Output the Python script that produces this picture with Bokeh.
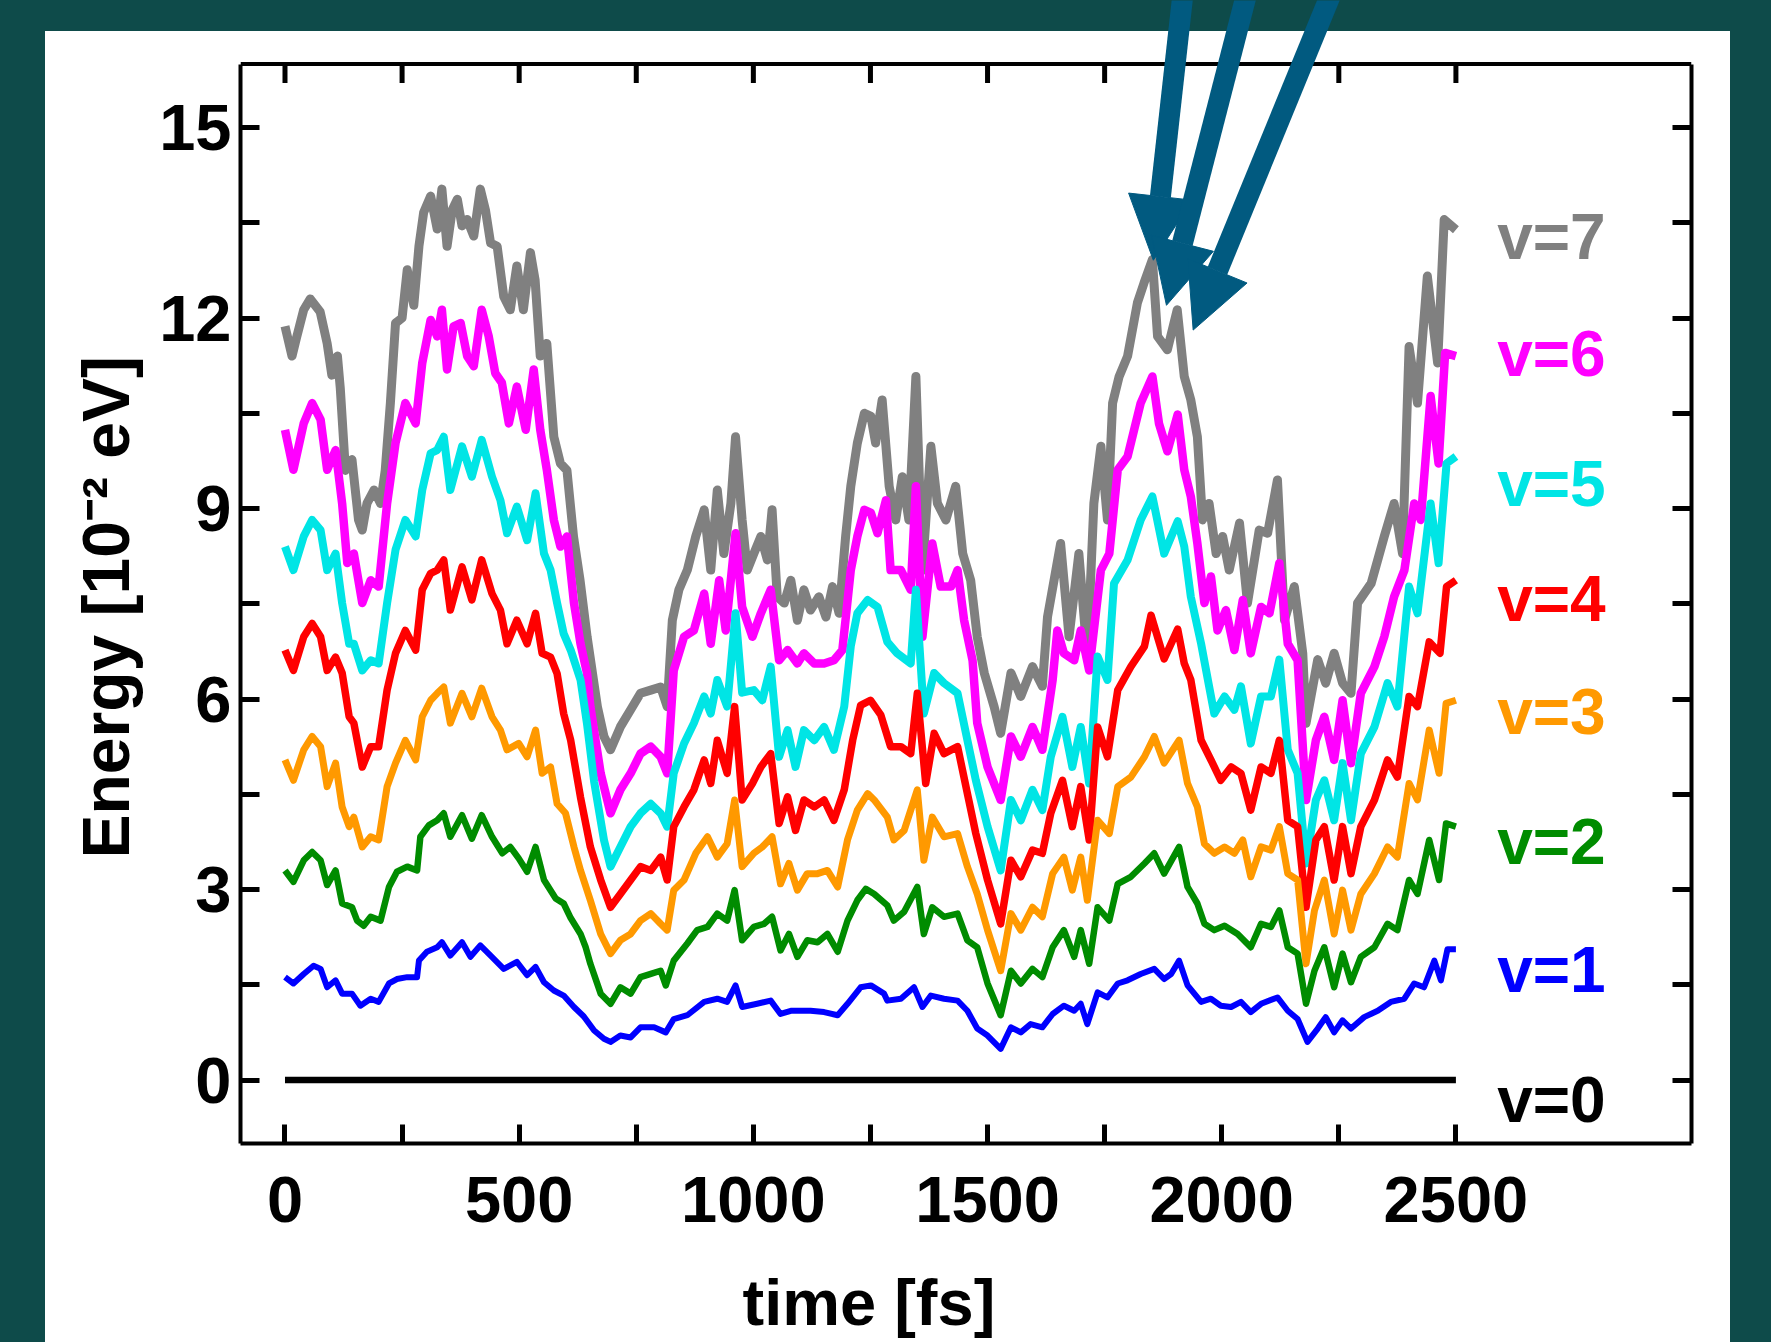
from bokeh.plotting import figure
from bokeh.models import (Range1d, LinearAxis, FixedTicker, Arrow, NormalHead, Span,
                          Title, ColumnDataSource)
from bokeh.embed import file_html
from bokeh.resources import INLINE
from bokeh.core.properties import value

# ---------------- data (time in fs, energy in 1e-2 eV) ----------------
v0 = [(0, 0.0), (2500, 0.0)]

v1 = [(0,1.62),(18,1.52),(40,1.67),(61,1.80),(76,1.75),(90,1.46),(108,1.57),(122,1.36),(143,1.36),
      (161,1.17),(183,1.28),(200,1.23),(222,1.52),(239,1.59),(261,1.62),(282,1.62),(286,1.88),(303,2.02),
      (325,2.09),(335,2.17),(353,1.96),(378,2.17),(396,1.94),(417,2.12),(439,1.96),(467,1.75),(495,1.86),
      (517,1.65),(535,1.78),(553,1.54),(574,1.41),(595,1.33),(617,1.15),(638,1.00),(660,0.78),(681,0.65),
      (695,0.60),(716,0.70),(738,0.67),(759,0.83),(788,0.83),(813,0.75),(830,0.96),(859,1.02),(895,1.23),
      (923,1.28),(944,1.23),(962,1.49),(976,1.15),(1008,1.20),(1037,1.25),(1058,1.04),(1080,1.09),
      (1101,1.09),(1122,1.09),(1151,1.07),(1180,1.02),(1201,1.20),(1229,1.46),(1251,1.49),(1279,1.36),
      (1286,1.25),(1315,1.28),(1343,1.46),(1361,1.15),(1379,1.33),(1407,1.28),(1436,1.25),(1457,1.09),
      (1478,0.81),(1500,0.70),(1528,0.49),(1550,0.83),(1571,0.75),(1592,0.88),(1617,0.83),(1639,1.04),
      (1663,1.17),(1685,1.09),(1699,1.20),(1713,0.88),(1735,1.38),(1756,1.30),(1778,1.52),(1799,1.57),
      (1827,1.67),(1856,1.75),(1877,1.59),(1892,1.67),(1909,1.88),(1927,1.49),(1956,1.23),(1977,1.28),
      (1998,1.17),(2020,1.15),(2041,1.23),(2062,1.07),(2084,1.20),(2119,1.30),(2141,1.09),(2162,0.96),
      (2183,0.60),(2205,0.81),(2222,0.99),(2240,0.75),(2258,0.94),(2276,0.81),(2304,0.99),(2333,1.09),
      (2361,1.23),(2390,1.28),(2411,1.52),(2432,1.46),(2454,1.88),(2468,1.57),(2482,2.06),(2500,2.06)]

v2 = [(0,3.30),(18,3.12),(40,3.46),(58,3.59),(76,3.46),(90,3.07),(108,3.30),(122,2.78),(143,2.72),
      (154,2.51),(168,2.43),(183,2.57),(204,2.51),(222,3.04),(239,3.28),(261,3.36),(282,3.30),(289,3.83),
      (307,4.01),(325,4.09),(339,4.20),(353,3.83),(378,4.17),(399,3.80),(420,4.17),(442,3.83),(464,3.57),
      (481,3.67),(499,3.49),(517,3.28),(535,3.67),(553,3.15),(578,2.86),(595,2.78),(610,2.55),(631,2.30),
      (642,2.09),(652,1.83),(674,1.36),(695,1.20),(716,1.46),(738,1.36),(759,1.62),(781,1.67),(802,1.72),
      (813,1.49),(830,1.88),(859,2.15),(880,2.36),(902,2.41),(923,2.62),(944,2.51),(960,2.99),(976,2.20),
      (1001,2.41),(1023,2.46),(1040,2.57),(1058,2.04),(1076,2.30),(1094,1.94),(1115,2.20),(1137,2.17),
      (1158,2.30),(1180,2.02),(1201,2.51),(1222,2.83),(1240,3.01),(1258,2.93),(1286,2.75),(1300,2.51),
      (1322,2.65),(1350,3.04),(1364,2.30),(1382,2.72),(1407,2.57),(1436,2.62),(1457,2.20),(1478,2.09),
      (1500,1.52),(1528,1.02),(1550,1.72),(1571,1.52),(1596,1.75),(1617,1.62),(1639,2.09),(1663,2.36),
      (1685,1.94),(1699,2.36),(1717,1.83),(1735,2.72),(1760,2.51),(1778,3.09),(1806,3.20),(1835,3.41),
      (1856,3.57),(1877,3.25),(1909,3.67),(1927,3.04),(1948,2.78),(1963,2.46),(1984,2.36),(2006,2.43),
      (2034,2.30),(2062,2.09),(2084,2.46),(2105,2.41),(2123,2.67),(2141,2.09),(2162,1.99),(2180,1.20),
      (2198,1.72),(2219,2.09),(2240,1.46),(2258,1.99),(2276,1.54),(2297,1.94),(2326,2.09),(2354,2.46),
      (2375,2.36),(2400,3.15),(2418,2.93),(2443,3.78),(2464,3.15),(2479,4.04),(2500,3.99)]

v3 = [(0,5.04),(18,4.72),(40,5.20),(58,5.41),(76,5.25),(90,4.62),(108,4.99),(122,4.30),(137,3.99),
      (147,4.14),(165,3.67),(183,3.83),(200,3.78),(218,4.62),(236,4.99),(257,5.35),(279,5.04),(293,5.72),
      (311,5.98),(325,6.09),(339,6.19),(353,5.62),(378,6.09),(399,5.72),(420,6.17),(442,5.72),(460,5.51),
      (474,5.20),(499,5.30),(517,5.09),(535,5.51),(549,4.83),(567,4.93),(581,4.35),(599,4.20),(617,3.67),
      (631,3.30),(652,2.83),(674,2.30),(695,1.99),(716,2.20),(738,2.30),(759,2.51),(781,2.62),(802,2.46),
      (816,2.36),(830,2.99),(852,3.15),(877,3.57),(902,3.83),(923,3.51),(944,3.72),(960,4.41),(976,3.36),
      (1001,3.57),(1019,3.67),(1040,3.83),(1058,3.09),(1076,3.41),(1094,2.99),(1115,3.25),(1137,3.25),
      (1158,3.30),(1180,3.04),(1201,3.78),(1222,4.25),(1244,4.51),(1258,4.41),(1286,4.14),(1300,3.78),
      (1322,3.93),(1350,4.57),(1364,3.46),(1382,4.14),(1407,3.83),(1436,3.88),(1457,3.36),(1478,2.93),
      (1500,2.36),(1528,1.72),(1550,2.62),(1571,2.36),(1596,2.72),(1617,2.57),(1639,3.25),(1663,3.51),
      (1681,2.99),(1699,3.51),(1713,2.83),(1735,4.09),(1760,3.88),(1778,4.62),(1806,4.77),(1835,5.09),
      (1856,5.41),(1877,4.99),(1909,5.35),(1927,4.67),(1948,4.30),(1963,3.72),(1984,3.57),(2006,3.67),
      (2027,3.57),(2045,3.78),(2062,3.20),(2084,3.67),(2105,3.62),(2123,3.99),(2141,3.25),(2162,3.15),
      (2180,1.83),(2198,2.67),(2219,3.15),(2240,2.30),(2258,2.99),(2276,2.36),(2297,2.93),(2326,3.25),
      (2354,3.67),(2375,3.51),(2400,4.67),(2418,4.41),(2443,5.51),(2464,4.83),(2479,5.93),(2500,5.98)]

v4 = [(0,6.77),(18,6.45),(40,6.98),(58,7.19),(76,6.98),(90,6.45),(108,6.66),(122,6.41),(137,5.72),
      (147,5.62),(165,4.93),(183,5.25),(200,5.25),(218,6.14),(236,6.72),(257,7.08),(279,6.77),(293,7.72),
      (311,7.98),(325,8.03),(339,8.19),(353,7.40),(378,8.08),(399,7.56),(420,8.19),(442,7.66),(460,7.40),
      (474,6.87),(495,7.24),(517,6.87),(535,7.35),(549,6.72),(567,6.66),(581,6.40),(595,5.77),(610,5.35),
      (631,4.45),(652,3.67),(674,3.15),(695,2.72),(716,2.93),(738,3.15),(759,3.36),(781,3.30),(802,3.51),
      (816,3.15),(830,3.99),(852,4.30),(873,4.57),(895,5.04),(909,4.67),(923,5.35),(944,4.83),(960,5.88),
      (976,4.41),(998,4.67),(1016,4.93),(1037,5.14),(1055,4.04),(1073,4.46),(1090,3.93),(1108,4.41),
      (1130,4.30),(1151,4.41),(1172,4.09),(1194,4.57),(1212,5.35),(1229,5.90),(1250,5.98),(1272,5.75),
      (1293,5.25),(1315,5.25),(1336,5.14),(1350,6.09),(1368,4.67),(1386,5.46),(1407,5.14),(1436,5.25),
      (1457,4.51),(1475,3.88),(1500,3.15),(1528,2.46),(1550,3.46),(1571,3.20),(1596,3.62),(1617,3.57),
      (1635,4.20),(1660,4.72),(1681,3.99),(1699,4.62),(1717,3.78),(1735,5.56),(1756,5.09),(1778,6.14),
      (1806,6.51),(1835,6.83),(1849,7.32),(1877,6.63),(1906,7.10),(1920,6.56),(1934,6.30),(1956,5.35),
      (1977,5.04),(1998,4.72),(2020,4.93),(2041,4.83),(2062,4.25),(2084,4.93),(2105,4.83),(2123,5.35),
      (2141,4.09),(2162,3.99),(2180,2.72),(2201,3.78),(2219,3.99),(2240,3.15),(2258,3.99),(2276,3.25),
      (2297,3.99),(2326,4.41),(2354,5.04),(2375,4.77),(2400,6.04),(2418,5.88),(2443,6.90),(2466,6.72),
      (2480,7.77),(2500,7.87)]

v5 = [(0,8.40),(18,8.03),(40,8.56),(58,8.82),(76,8.66),(90,8.03),(108,8.29),(122,7.51),(137,6.87),
      (147,6.87),(165,6.45),(183,6.61),(200,6.56),(218,7.51),(236,8.35),(257,8.82),(279,8.56),(293,9.29),
      (311,9.87),(325,9.92),(339,10.13),(353,9.29),(378,9.98),(399,9.50),(420,10.08),(442,9.50),(460,9.13),
      (474,8.61),(495,9.03),(517,8.50),(535,9.24),(553,8.29),(567,8.03),(581,7.51),(595,7.03),(610,6.77),
      (631,6.30),(645,5.60),(660,4.70),(681,3.78),(695,3.36),(716,3.67),(738,3.99),(759,4.20),(781,4.35),
      (802,4.20),(816,3.99),(830,4.83),(852,5.30),(873,5.62),(895,6.04),(909,5.77),(923,6.30),(944,5.88),
      (962,7.35),(976,6.10),(1001,6.14),(1019,5.98),(1037,6.51),(1055,5.09),(1073,5.51),(1090,4.93),
      (1108,5.51),(1130,5.35),(1151,5.56),(1172,5.20),(1194,5.88),(1208,6.83),(1222,7.35),(1244,7.56),
      (1265,7.45),(1286,6.90),(1307,6.72),(1336,6.56),(1347,7.72),(1364,5.77),(1386,6.41),(1407,6.25),
      (1436,6.09),(1457,5.35),(1475,4.72),(1500,3.99),(1528,3.30),(1550,4.41),(1571,4.09),(1596,4.57),
      (1617,4.25),(1635,5.09),(1660,5.72),(1681,4.93),(1699,5.56),(1717,4.67),(1735,6.67),(1756,6.30),
      (1770,7.82),(1799,8.19),(1827,8.82),(1852,9.19),(1877,8.29),(1906,8.80),(1920,8.40),(1934,7.61),
      (1956,6.87),(1973,6.20),(1984,5.77),(2006,6.04),(2027,5.83),(2041,6.20),(2062,5.30),(2084,6.04),
      (2105,6.04),(2123,6.62),(2141,5.20),(2162,4.83),(2180,3.41),(2201,4.41),(2219,4.72),(2240,4.09),
      (2258,4.99),(2276,4.09),(2297,5.14),(2326,5.56),(2354,6.25),(2375,5.88),(2400,7.77),(2418,7.35),
      (2446,9.08),(2463,8.14),(2480,9.71),(2500,9.82)]

v6 = [(0,10.24),(18,9.61),(40,10.34),(58,10.66),(76,10.40),(90,9.61),(108,9.92),(122,9.08),(133,8.14),
      (147,8.29),(165,7.51),(183,7.87),(200,7.77),(218,9.08),(236,10.03),(257,10.66),(279,10.34),
      (293,11.29),(311,11.97),(325,11.71),(335,12.13),(346,11.19),(360,11.87),(375,11.92),(389,11.40),
      (403,11.24),(420,12.13),(435,11.71),(449,11.13),(463,10.98),(478,10.34),(495,10.92),(514,10.24),
      (531,11.19),(545,10.24),(559,9.61),(574,8.82),(588,8.40),(602,8.56),(617,7.51),(631,6.87),(645,6.40),
      (652,5.88),(674,4.83),(695,4.20),(716,4.57),(738,4.83),(759,5.14),(781,5.25),(802,5.09),(816,4.83),
      (830,6.45),(852,6.98),(873,7.08),(895,7.66),(909,6.87),(927,7.87),(941,7.08),(962,8.61),(976,7.45),
      (998,6.98),(1016,7.35),(1037,7.72),(1055,6.61),(1073,6.77),(1094,6.56),(1108,6.72),(1130,6.56),
      (1151,6.56),(1172,6.61),(1190,6.77),(1208,8.03),(1222,8.56),(1237,8.98),(1251,8.93),(1265,8.61),
      (1283,9.13),(1293,8.03),(1315,8.03),(1336,7.72),(1347,9.35),(1361,6.98),(1382,8.45),(1400,7.77),
      (1422,7.77),(1436,8.03),(1450,7.24),(1468,6.61),(1478,5.62),(1500,4.93),(1528,4.41),(1550,5.41),
      (1571,5.09),(1596,5.56),(1617,5.20),(1639,6.30),(1649,7.08),(1663,6.72),(1685,6.61),(1699,7.08),
      (1717,6.45),(1742,8.03),(1760,8.29),(1778,9.61),(1799,9.82),(1827,10.66),(1852,11.08),(1866,10.34),
      (1884,9.90),(1906,10.48),(1920,9.61),(1934,9.19),(1948,8.45),(1963,7.51),(1977,7.93),(1991,7.08),
      (2009,7.40),(2027,6.77),(2045,7.56),(2062,6.72),(2084,7.45),(2102,7.35),(2123,8.14),(2141,6.87),
      (2162,6.61),(2180,4.41),(2201,5.35),(2219,5.72),(2240,5.04),(2258,5.98),(2276,4.99),(2297,6.09),
      (2326,6.51),(2347,6.98),(2368,7.61),(2390,8.03),(2411,9.08),(2425,8.82),(2446,10.77),(2463,9.71),
      (2477,11.45),(2500,11.40)]

v7 = [(0,11.87),(15,11.40),(25,11.70),(40,12.13),(54,12.30),(75,12.10),(90,11.60),(100,11.10),
      (112,11.40),(118,10.90),(129,9.60),(143,9.77),(157,8.82),(165,8.66),(175,9.08),(190,9.29),(204,9.08),
      (214,9.60),(225,10.66),(236,11.92),(250,12.00),(261,12.76),(275,12.20),(286,13.13),(296,13.66),
      (311,13.92),(325,13.40),(335,14.03),(346,13.13),(357,13.70),(368,13.87),(378,13.45),(389,13.55),
      (403,13.29),(417,14.03),(428,13.70),(439,13.18),(453,13.13),(467,12.34),(481,12.13),(495,12.82),
      (509,12.13),(524,13.03),(534,12.60),(545,11.40),(559,11.60),(574,10.13),(588,9.71),(602,9.60),
      (616,8.56),(630,7.87),(645,6.98),(667,5.88),(681,5.41),(695,5.20),(716,5.56),(738,5.83),(759,6.09),
      (781,6.14),(802,6.19),(816,5.88),(827,7.24),(841,7.72),(859,8.03),(877,8.56),(895,8.98),(909,8.03),
      (923,9.29),(937,8.29),(952,9.08),(962,10.13),(976,8.82),(987,8.03),(1001,8.29),(1016,8.56),
      (1030,8.19),(1040,8.98),(1051,7.61),(1066,7.51),(1080,7.87),(1094,7.24),(1108,7.72),(1122,7.40),
      (1140,7.61),(1155,7.29),(1169,7.77),(1183,7.35),(1197,8.56),(1208,9.35),(1222,10.03),(1237,10.50),
      (1251,10.45),(1261,10.03),(1275,10.71),(1290,9.35),(1304,8.82),(1318,9.50),(1332,8.82),(1347,11.08),
      (1361,8.03),(1379,9.98),(1393,9.08),(1411,8.82),(1432,9.35),(1447,8.29),(1464,7.87),(1478,6.98),
      (1493,6.41),(1514,5.88),(1528,5.46),(1550,6.41),(1571,6.04),(1596,6.51),(1617,6.20),(1628,7.29),
      (1656,8.45),(1674,6.98),(1695,8.29),(1713,6.66),(1727,9.08),(1742,9.98),(1756,8.82),(1767,10.66),
      (1781,11.08),(1799,11.40),(1820,12.24),(1834,12.55),(1852,12.92),(1863,11.71),(1884,11.50),
      (1905,12.13),(1920,11.08),(1934,10.71),(1948,10.13),(1959,8.82),(1973,9.08),(1988,8.29),(2002,8.56),
      (2016,8.03),(2038,8.77),(2055,7.51),(2080,8.66),(2098,8.61),(2119,9.45),(2134,7.24),(2155,7.77),
      (2173,6.72),(2180,5.62),(2205,6.62),(2222,6.25),(2240,6.72),(2258,6.25),(2276,6.09),(2290,7.51),
      (2319,7.82),(2347,8.56),(2368,9.08),(2386,8.29),(2400,11.55),(2418,10.66),(2439,12.66),(2461,11.29),
      (2475,13.55),(2500,13.39)]

series = [v7, v6, v5, v4, v3, v2, v1, v0]
series_names = ["v=7", "v=6", "v=5", "v=4", "v=3", "v=2", "v=1", "v=0"]
label_y = [13.27, 11.43, 9.38, 7.57, 5.79, 3.75, 1.74, -0.31]

x_major = [0, 500, 1000, 1500, 2000, 2500]
x_minor = [250, 750, 1250, 1750, 2250]
y_major = [0, 3, 6, 9, 12, 15]
y_minor = [1.5, 4.5, 7.5, 10.5, 13.5]

# annotation arrows: tail and tip (time, energy)
arrow_tail_t = [1918.6, 2056.5, 2238.7]
arrow_tail_e = [17.2, 17.2, 17.2]
arrow_tip_t = [1854, 1882, 1939]
arrow_tip_e = [12.91, 12.20, 11.81]

# ---------------- styles ----------------
TEAL = "#0e4b4a"
ARROW = "#015a80"
COLORS = ["#808080", "#ff00ff", "#00e5e5", "#ff0000", "#ff9900", "#008c00", "#0000ff", "#000000"]
WIDTHS = [9, 8.5, 8, 7.5, 7, 6.5, 6, 6.5]
FONT = "Liberation Sans"
Y_TOP = 16.0          # top of the boxed axes
TICK_LEN = 19 / 63.5  # 19 px in data units

# canvas spans from the window top (teal strip drawn by CSS) down past the bottom
p = figure(width=1685, height=1382, output_backend="svg", toolbar_location=None,
           x_range=Range1d(-95, 3003), y_range=Range1d(-1.0, 17.0),
           min_border_left=195, min_border_right=39, min_border_top=0, min_border_bottom=239,
           border_fill_color=None, background_fill_color=None,
           outline_line_color=None, margin=(0, 0, 0, 45))
p.styles = {"background": "linear-gradient(to bottom, %s 0px, %s 31px, #ffffff 31px, #ffffff 100%%)"
            % (TEAL, TEAL)}
p.xgrid.visible = False
p.ygrid.visible = False

try:
    from bokeh.models import GlobalInlineStyleSheet
    p.stylesheets = [GlobalInlineStyleSheet(
        css="html, body { background-color: %s; overflow: hidden; }" % TEAL)]
except Exception:
    pass


def style_axis(ax, show_labels):
    ax.axis_line_color = "black"
    ax.axis_line_width = 4
    ax.major_tick_in = 19
    ax.major_tick_out = 0
    ax.minor_tick_in = 19
    ax.minor_tick_out = 0
    ax.major_tick_line_width = 5
    ax.minor_tick_line_width = 5
    ax.major_tick_line_color = "black"
    ax.minor_tick_line_color = "black"
    ax.major_label_text_font = FONT
    ax.major_label_text_font_style = "bold"
    ax.major_label_text_color = "black"
    ax.major_label_text_font_size = "65px" if show_labels else "0px"


xax = p.xaxis[0]
xax.ticker = FixedTicker(ticks=x_major, minor_ticks=x_minor)
style_axis(xax, True)
xax.major_label_standoff = 33

yax = p.yaxis[0]
yax.ticker = FixedTicker(ticks=y_major, minor_ticks=y_minor)
yax.bounds = (-1.0, Y_TOP)
style_axis(yax, True)
yax.major_label_standoff = 9

right_ax = LinearAxis(ticker=FixedTicker(ticks=y_major, minor_ticks=y_minor),
                      major_label_overrides={t: "" for t in y_major}, bounds=(-1.0, Y_TOP))
style_axis(right_ax, False)
p.add_layout(right_ax, "right")

# top edge of the box and its inward ticks
p.add_layout(Span(location=Y_TOP, dimension="width", line_color="black", line_width=4))
top_ticks = x_major + x_minor
p.segment(x0=top_ticks, y0=[Y_TOP] * len(top_ticks), x1=top_ticks,
          y1=[Y_TOP - TICK_LEN] * len(top_ticks), line_color="black", line_width=5)

# axis titles
p.add_layout(Title(text="Energy [10\u207b\u00b2 eV]", align="left", offset=285, standoff=28,
                   text_font=FONT, text_font_style="bold", text_font_size="66px",
                   text_color="black"), "left")
p.add_layout(Title(text="time [fs]", align="left", offset=502, standoff=78,
                   text_font=FONT, text_font_style="bold", text_font_size="65px",
                   text_color="black"), "below")

# curves
for data, col, lw in zip(series, COLORS, WIDTHS):
    ts = [d[0] for d in data]
    es = [d[1] for d in data]
    p.line(ts, es, line_color=col, line_width=lw, line_join="round")

# curve labels
lab_src = ColumnDataSource(dict(x=[2588] * len(series_names), y=label_y,
                                text=series_names, color=COLORS))
p.text(x="x", y="y", text="text", text_color="color", source=lab_src,
       text_font=value(FONT), text_font_style="bold", text_font_size="64px",
       text_align="left", text_baseline="middle")

# annotation arrows
for xs, ys, xe, ye in zip(arrow_tail_t, arrow_tail_e, arrow_tip_t, arrow_tip_e):
    p.add_layout(Arrow(x_start=xs, y_start=ys, x_end=xe, y_end=ye, start=None,
                       end=NormalHead(size=64, fill_color=ARROW, line_color=ARROW, line_width=1),
                       line_color=ARROW, line_width=21))

open("out.html", "w").write(file_html(p, INLINE))
